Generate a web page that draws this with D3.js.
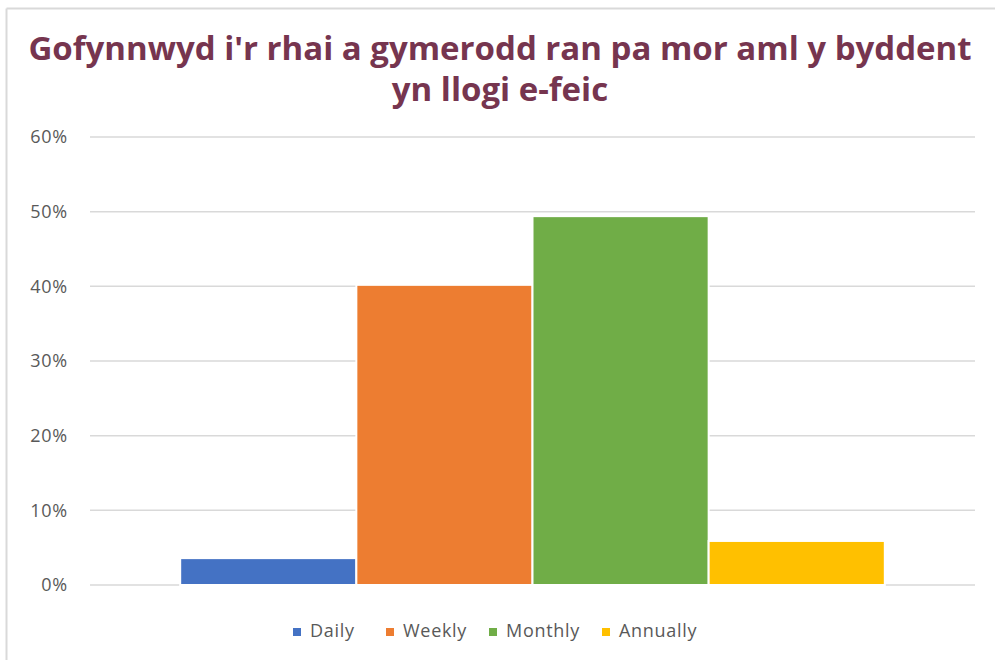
<!DOCTYPE html>
<html>
<head>
<meta charset="utf-8">
<script src="https://cdn.jsdelivr.net/npm/d3@7"></script>
<style>
  body { margin: 0; background: #fff; }
  svg { display: block; }
</style>
</head>
<body>
<svg id="chart" width="995" height="660"></svg>
<script>
// data
var series = ["Daily", "Weekly", "Monthly", "Annually"]
var values = [0.036, 0.402, 0.494, 0.059]
var colors = ["#4472C4", "#ED7D31", "#70AD47", "#FFC000"]
var yTicks = [0, 0.1, 0.2, 0.3, 0.4, 0.5, 0.6]
var titleLines = ["Gofynnwyd i'r rhai a gymerodd ran pa mor aml y byddent", "yn llogi e-feic"]

var svg = d3.select("#chart")

// frame (only top and left edges visible)
svg.append("line").attr("x1", 6.5).attr("x2", 995).attr("y1", 8.5).attr("y2", 8.5).style("stroke", "#d9d9d9").style("stroke-width", 2)
svg.append("line").attr("x1", 6.5).attr("x2", 6.5).attr("y1", 8.5).attr("y2", 660).style("stroke", "#d9d9d9").style("stroke-width", 2)

// title
svg.selectAll(".title").data(titleLines).enter().append("text")
  .attr("class", "title")
  .attr("x", 500).attr("y", function(d, i) { return 60 + i * 41 })
  .attr("text-anchor", "middle")
  .style("font-family", "'Open Sans', sans-serif")
  .style("font-weight", "bold")
  .style("font-size", "33px")
  .style("fill", "#76354F")
  .text(function(d) { return d })

var plotLeft = 90, plotRight = 975, plotTop = 137, plotBottom = 585

var y = d3.scaleLinear().domain([0, 0.6]).range([plotBottom, plotTop])

// gridlines
svg.append("g").selectAll("line").data(yTicks).enter().append("line")
  .attr("x1", plotLeft).attr("x2", plotRight)
  .attr("y1", function(d) { return y(d) }).attr("y2", function(d) { return y(d) })
  .style("stroke", "#d9d9d9").style("stroke-width", 1.5)

// y axis labels
var yAxis = d3.axisLeft(y).tickValues(yTicks).tickFormat(d3.format(".0%")).tickSize(0).tickPadding(0)
var ga = svg.append("g").attr("transform", "translate(68,0)").call(yAxis)
ga.select(".domain").remove()
ga.selectAll("text").style("font-family", "'Open Sans', sans-serif").style("font-size", "18px")
  .style("letter-spacing", "0.8px").style("fill", "#595959")

// single category band, four series inside
var x0 = d3.scaleBand().domain(["all"]).range([plotLeft, plotRight]).paddingInner(0).paddingOuter(0.128)
var x1 = d3.scaleBand().domain(series).range([x0("all"), x0("all") + x0.bandwidth()])

svg.append("g").selectAll("rect").data(series).enter().append("rect")
  .attr("x", function(d) { return x1(d) })
  .attr("width", x1.bandwidth())
  .attr("y", function(d, i) { return y(values[i]) })
  .attr("height", function(d, i) { return plotBottom - y(values[i]) })
  .style("fill", function(d, i) { return colors[i] })
  .style("stroke", "#fff").style("stroke-width", 2)

// legend
var legendX = [293, 386, 489, 602]
var lg = svg.append("g").selectAll("g").data(series).enter().append("g")
  .attr("transform", function(d, i) { return "translate(" + legendX[i] + ",632)" })
lg.append("rect").attr("x", 0).attr("y", -4).attr("width", 8).attr("height", 8).style("fill", function(d, i) { return colors[i] })
lg.append("text").attr("x", 17).attr("y", 0).attr("dominant-baseline", "middle")
  .style("font-family", "'Open Sans', sans-serif").style("font-size", "18px").style("letter-spacing", "0.7px").style("fill", "#595959")
  .text(function(d) { return d })
</script>
</body>
</html>
